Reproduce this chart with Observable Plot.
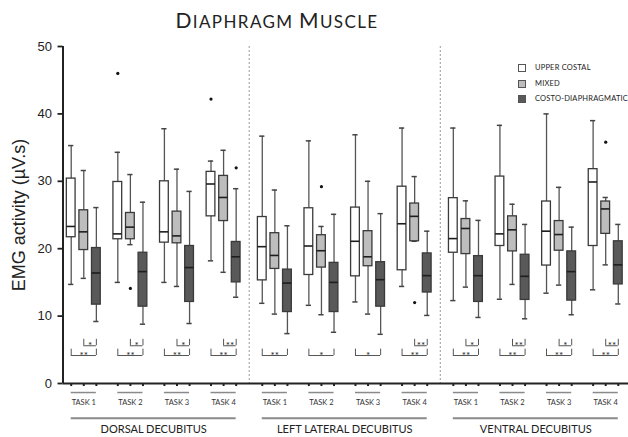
<!DOCTYPE html>
<html><head><meta charset="utf-8">
<script src="https://cdn.jsdelivr.net/npm/d3@7"></script>
<script src="https://cdn.jsdelivr.net/npm/@observablehq/plot@0.6"></script>
<style>
body{margin:0;background:#fff}
#wrap{position:relative;width:628px;height:437px;overflow:hidden;background:#fff}
#title{position:absolute;left:0;top:9px;width:554px;text-align:center;font-family:Lato,sans-serif;color:#222;line-height:1;letter-spacing:1.4px;white-space:nowrap}
#chart{position:absolute;left:0;top:0}
.sw{position:absolute;width:8px;height:8px;box-sizing:border-box;border:1px solid #555}
.lt{position:absolute;font-family:Lato,sans-serif;font-size:7.5px;line-height:8px;color:#222;white-space:nowrap;letter-spacing:0.2px}
svg g[aria-label="y-axis tick"] path{stroke-width:1.8px}
</style></head><body>
<div id="wrap"><div id="chart"></div><div id="title"></div></div>
<script>
// ---- data ----
const title = "Diaphragm Muscle";
const yLabel = "EMG activity (µV.s)";
const groups = ["DORSAL DECUBITUS", "LEFT LATERAL DECUBITUS", "VENTRAL DECUBITUS"];
const tasks = ["TASK 1", "TASK 2", "TASK 3", "TASK 4"];
const series = ["UPPER COSTAL", "MIXED", "COSTO-DIAPHRAGMATIC"];
const seriesFill = ["#ffffff", "#bdbdbd", "#595959"];
const yTicks = [0, 10, 20, 30, 40, 50];

// [lower whisker, Q1, median, Q3, upper whisker]; order: Dorsal T1-4, Left lateral T1-4, Ventral T1-4
const upperCostal = [
  [14.7, 21.7, 23.3, 30.4, 35.3], [15.0, 21.4, 22.2, 29.9, 34.3], [15.0, 20.9, 22.5, 30.0, 37.8], [18.2, 24.8, 29.6, 31.4, 33.0],
  [11.9, 15.3, 20.3, 24.7, 36.7], [11.6, 16.1, 20.4, 26.0, 36.0], [12.1, 15.9, 21.1, 26.1, 36.9], [14.4, 16.8, 23.7, 29.2, 37.9],
  [12.3, 19.4, 21.5, 27.5, 37.9], [12.5, 20.4, 22.2, 30.7, 38.3], [13.4, 17.5, 22.6, 27.0, 40.0], [13.9, 20.4, 29.9, 31.8, 39.0]
];
const mixed = [
  [15.6, 19.8, 22.5, 25.7, 31.6], [20.6, 21.4, 23.2, 25.3, 31.0], [14.4, 20.8, 21.9, 25.5, 31.8], [16.5, 24.1, 27.6, 30.8, 34.6],
  [10.3, 17.0, 19.0, 22.3, 28.7], [10.2, 17.2, 19.7, 22.0, 23.3], [10.3, 17.4, 18.8, 22.6, 30.0], [21.1, 21.1, 24.8, 26.7, 30.7],
  [14.3, 19.2, 23.0, 24.4, 27.1], [14.7, 19.6, 22.8, 24.8, 26.6], [14.6, 19.7, 22.1, 24.1, 29.1], [17.6, 22.2, 25.9, 27.0, 27.6]
];
const costoDiaphragmatic = [
  [9.2, 11.7, 16.4, 20.1, 26.1], [8.8, 11.4, 16.6, 19.4, 26.9], [8.9, 12.1, 17.2, 20.4, 28.5], [12.8, 15.0, 18.8, 21.0, 28.9],
  [7.4, 10.6, 14.9, 16.9, 23.4], [7.6, 10.6, 15.0, 17.9, 25.1], [7.3, 11.4, 15.4, 18.0, 25.2], [10.1, 13.5, 16.0, 19.3, 22.6],
  [9.8, 12.1, 16.0, 18.9, 24.2], [9.6, 12.4, 15.9, 19.1, 23.6], [10.2, 12.3, 16.6, 19.6, 23.2], [11.8, 14.7, 17.6, 21.1, 23.6]
];
// outliers: [group, task, series, value]
const outliers = [
  [0, 1, 0, 46.0], [0, 1, 1, 14.1], [0, 3, 0, 42.2], [0, 3, 2, 32.0],
  [1, 1, 1, 29.2], [1, 3, 1, 12.0], [2, 3, 1, 35.8]
];
// significance vs costo-diaphragmatic
const sigMixedVsCosto = [["*", "*", "*", "**"], ["", "", "", "**"], ["*", "**", "*", "**"]];
const sigUpperVsCosto = [["**", "**", "**", "**"], ["**", "*", "*", "**"], ["**", "**", "**", "**"]];

// ---- layout ----
const GROUP_STEP = 4.1, SERIES_STEP = 0.27, HALF_BOX = 0.094, HALF_CAP = 0.056;
const X_MIN = -0.446, X_MAX = 11.689;
const pos = (g, t, s) => g * GROUP_STEP + t + (s - 1) * SERIES_STEP;
const allStats = [upperCostal, mixed, costoDiaphragmatic];

const boxes = [];
groups.forEach((gn, g) => tasks.forEach((tn, t) => series.forEach((sn, s) => {
  const [lo, q1, med, q3, hi] = allStats[s][g * 4 + t];
  boxes.push({g, t, s, x: pos(g, t, s), lo, q1, med, q3, hi});
})));
const taskRows = [];
groups.forEach((gn, g) => tasks.forEach((tn, t) => taskRows.push({g, t, label: tn, x1: pos(g, t, 0), x2: pos(g, t, 2)})));
const groupRows = groups.map((gn, g) => ({label: gn, x1: pos(g, 0, 0), x2: pos(g, 3, 2)}));
const separators = [0, 1].map(g => (pos(g, 3, 2) + pos(g + 1, 0, 0)) / 2);
const outlierRows = outliers.map(([g, t, s, v]) => ({x: pos(g, t, s), v}));

const brackets = [];
groups.forEach((gn, g) => tasks.forEach((tn, t) => {
  if (sigUpperVsCosto[g][t]) brackets.push({x1: pos(g, t, 0), x2: pos(g, t, 2), y: 4.15, label: sigUpperVsCosto[g][t]});
  if (sigMixedVsCosto[g][t]) brackets.push({x1: pos(g, t, 1), x2: pos(g, t, 2), y: 5.6, label: sigMixedVsCosto[g][t]});
}));
const bracketEnds = brackets.flatMap(b => [{x: b.x1, y: b.y}, {x: b.x2, y: b.y}]);

const catFont = "Lato, sans-serif";
const marks = [
  Plot.ruleX(separators, {x: d => d, stroke: "#9a9a9a", strokeWidth: 1, strokeDasharray: "2,2"}),
  Plot.ruleX(boxes, {x: "x", y1: "lo", y2: "q1", stroke: "#555", strokeWidth: 1.3}),
  Plot.ruleX(boxes, {x: "x", y1: "q3", y2: "hi", stroke: "#555", strokeWidth: 1.3}),
  Plot.ruleY(boxes, {y: "lo", x1: d => d.x - HALF_CAP, x2: d => d.x + HALF_CAP, stroke: "#444", strokeWidth: 1.5}),
  Plot.ruleY(boxes, {y: "hi", x1: d => d.x - HALF_CAP, x2: d => d.x + HALF_CAP, stroke: "#444", strokeWidth: 1.5}),
  ...series.map((sn, s) => Plot.rect(boxes.filter(d => d.s === s), {
    x1: d => d.x - HALF_BOX, x2: d => d.x + HALF_BOX, y1: "q1", y2: "q3",
    fill: seriesFill[s], stroke: "#3a3a3a", strokeWidth: 1.3
  })),
  Plot.ruleY(boxes, {y: "med", x1: d => d.x - HALF_BOX, x2: d => d.x + HALF_BOX, stroke: "#1e1e1e", strokeWidth: 1.6}),
  Plot.dot(outlierRows, {x: "x", y: "v", r: 1.6, fill: "#111", stroke: null}),
  // significance brackets
  Plot.ruleY(brackets, {y: "y", x1: "x1", x2: "x2", stroke: "#555", strokeWidth: 1}),
  Plot.ruleX(bracketEnds, {x: "x", y1: "y", y2: d => d.y + 0.95, stroke: "#555", strokeWidth: 1}),
  Plot.text(brackets, {x: d => (d.x1 + d.x2) / 2, y: "y", text: "label", fontSize: 10, fontFamily: catFont, fill: "#222", lineAnchor: "middle", dy: 0}),
  // axes lines
  Plot.ruleX([X_MIN], {stroke: "#222", strokeWidth: 2}),
  Plot.ruleY([0], {stroke: "#222", strokeWidth: 2}),
  Plot.ruleX(boxes, {x: "x", y1: 0, y2: -0.45, stroke: "#222", strokeWidth: 2}),
  // category decorations
  Plot.ruleY(taskRows, {y: -1.34, x1: "x1", x2: "x2", stroke: "#8a8a8a", strokeWidth: 1.5}),
  Plot.text(taskRows, {x: d => (d.x1 + d.x2) / 2, y: -2.86, text: "label", fontSize: 7.5, fontFamily: catFont, fill: "#333"}),
  Plot.ruleY(groupRows, {y: -5.15, x1: "x1", x2: "x2", stroke: "#8a8a8a", strokeWidth: 2}),
  Plot.text(groupRows, {x: d => (d.x1 + d.x2) / 2, y: -6.87, text: "label", fontSize: 11, fontFamily: catFont, fill: "#222"}),
  Plot.text([yLabel], {frameAnchor: "left", textAnchor: "middle", lineAnchor: "middle", dx: -43.5, rotate: -90, fontSize: 18, fontFamily: "Liberation Sans, Arial, sans-serif", fill: "#222"})
];

const chart = Plot.plot({
  width: 628, height: 437,
  marginLeft: 62.5, marginRight: 0, marginTop: 46, marginBottom: 54,
  style: {fontFamily: "Liberation Sans, Arial, sans-serif", fontSize: "13px", color: "#222", background: "transparent", overflow: "visible"},
  x: {domain: [X_MIN, X_MAX], axis: null},
  y: {domain: [0, 50], ticks: yTicks, tickSize: 5, tickPadding: 6, label: null},
  marks
});
document.getElementById("chart").appendChild(chart);

// title (small caps)
const tEl = document.getElementById("title");
title.split(" ").forEach((w, i) => {
  if (i) tEl.appendChild(document.createTextNode(" "));
  const a = document.createElement("span"); a.style.fontSize = "21px"; a.textContent = w[0].toUpperCase();
  const b = document.createElement("span"); b.style.fontSize = "17px"; b.textContent = w.slice(1).toUpperCase();
  tEl.appendChild(a); tEl.appendChild(b);
});

// legend
const wrap = document.getElementById("wrap");
series.forEach((sn, s) => {
  const sw = document.createElement("div"); sw.className = "sw";
  sw.style.left = "518px"; sw.style.top = (64 + s * 15.5) + "px"; sw.style.background = seriesFill[s];
  const lt = document.createElement("div"); lt.className = "lt";
  lt.style.left = "535px"; lt.style.top = (64 + s * 15.5) + "px"; lt.textContent = sn;
  wrap.appendChild(sw); wrap.appendChild(lt);
});
</script>
</body></html>
